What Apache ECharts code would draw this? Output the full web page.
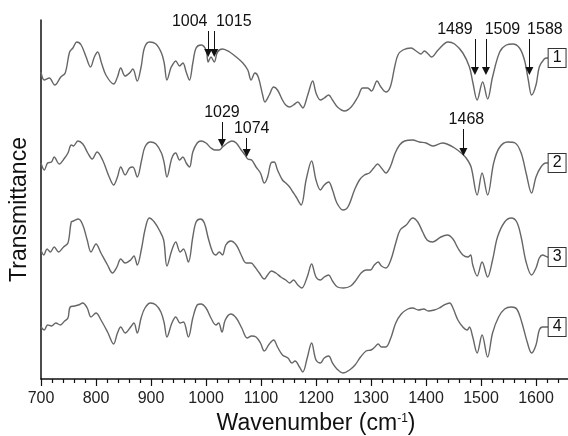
<!DOCTYPE html>
<html>
<head>
<meta charset="utf-8">
<script src="https://cdn.jsdelivr.net/npm/echarts@6/dist/echarts.min.js"></script>
<style>
html, body { margin: 0; padding: 0; background: #fff; }
#chart { width: 568px; height: 436px; }
</style>
</head>
<body>
<div id="chart"></div>
<script>
// spectra (offset traces, arbitrary transmittance units)
var wn1 = [700,706,715,725,736,744,752,758,765,773,782,790,797,803,810,818,832,839,845,853,861,867,875,882,888,897,909,919,924,929,936,939,945,952,958,964,970,976,982,991,1000,1004,1009,1015,1021,1030,1043,1055,1067,1076,1082,1089,1095,1103,1107,1115,1123,1130,1139,1145,1152,1159,1167,1173,1176,1185,1194,1200,1208,1215,1223,1230,1239,1252,1264,1276,1285,1294,1301,1311,1318,1327,1335,1343,1349,1358,1373,1382,1391,1397,1404,1410,1422,1440,1452,1467,1479,1485,1493,1503,1512,1521,1534,1546,1558,1570,1579,1586,1592,1600,1606,1615,1620,1623];
var t1 = [307,299,301,294,302,306,327,331,337,334,322,312,322,327,316,304,295,302,311,303,306,310,298,312,331,337,335,326,316,299,311,314,318,313,316,307,299,316,331,334,329,317,322,317,327,330,327,322,316,309,299,306,302,284,277,284,292,289,279,274,272,274,277,273,271,284,298,286,279,281,284,279,272,268,272,282,291,291,288,298,292,287,292,312,324,329,331,328,325,328,325,322,329,337,335,326,312,297,279,297,280,302,327,334,335,331,319,299,284,294,312,320,321,321];

var wn2 = [700,706,712,719,724,733,743,749,755,759,767,776,785,793,802,812,824,832,839,845,853,861,867,875,883,889,899,909,919,924,929,938,945,952,958,964,970,976,984,991,1000,1009,1016,1024,1030,1039,1047,1055,1064,1071,1076,1083,1091,1099,1106,1112,1118,1124,1130,1139,1145,1152,1158,1164,1173,1182,1192,1200,1208,1215,1223,1230,1238,1249,1258,1270,1279,1288,1297,1305,1312,1319,1327,1335,1344,1352,1361,1376,1388,1400,1412,1430,1438,1452,1464,1473,1482,1493,1502,1512,1523,1533,1548,1562,1573,1582,1592,1600,1609,1618,1623];
var t2 = [216,209,216,217,222,215,221,226,234,233,238,235,226,220,227,219,202,194,202,212,204,211,212,202,219,232,237,235,226,216,202,221,226,219,222,216,212,227,236,238,236,231,229,229,232,236,238,236,229,224,220,219,212,206,196,202,216,217,209,199,196,192,187,182,174,199,218,199,189,194,197,189,176,169,172,189,199,204,206,211,215,211,206,212,226,234,238,239,237,236,233,236,235,231,226,221,212,184,206,184,216,231,237,236,226,206,186,202,212,216,216];

var wn3 = [700,705,711,717,724,732,741,749,755,759,768,776,784,791,800,809,821,830,838,845,853,863,869,875,883,889,897,906,915,923,929,938,945,953,959,968,976,982,990,997,1004,1012,1018,1024,1030,1036,1045,1055,1064,1073,1082,1089,1097,1106,1112,1119,1127,1136,1145,1152,1159,1167,1174,1184,1192,1200,1208,1215,1223,1230,1239,1250,1263,1273,1282,1291,1299,1306,1313,1319,1327,1336,1345,1353,1364,1376,1385,1394,1402,1412,1427,1439,1449,1458,1467,1476,1481,1485,1493,1502,1512,1521,1530,1543,1555,1565,1573,1582,1592,1600,1606,1612,1621,1623];
var t3 = [129,124,130,127,132,127,132,136,157,158,160,154,139,127,135,126,114,106,112,120,116,119,123,114,131,149,161,157,149,139,113,129,137,127,130,117,142,157,160,156,141,127,124,127,124,134,138,134,124,116,116,112,106,100,104,108,106,102,99,96,99,94,91,102,115,102,99,102,104,98,92,91,93,99,106,109,109,114,117,113,111,119,136,149,154,161,157,147,139,137,142,144,140,131,124,122,124,114,103,117,102,119,142,157,161,157,142,117,104,111,121,124,122,122];

var wn4 = [700,706,712,719,727,735,743,749,753,761,768,776,784,791,800,809,821,832,839,845,853,863,869,875,882,889,899,909,918,924,929,938,945,953,959,968,976,984,991,1000,1009,1018,1023,1029,1035,1045,1055,1065,1075,1083,1091,1099,1106,1115,1123,1130,1139,1149,1156,1162,1170,1176,1184,1192,1200,1208,1215,1223,1230,1238,1249,1261,1271,1281,1291,1300,1307,1313,1319,1327,1336,1345,1355,1367,1376,1386,1396,1404,1415,1424,1433,1443,1449,1458,1467,1475,1479,1485,1493,1502,1512,1521,1532,1543,1555,1565,1574,1584,1592,1600,1606,1612,1620,1623];
var t4 = [52,49,54,53,56,54,58,61,72,73,74,76,71,62,66,59,47,35,46,52,46,52,56,46,61,71,76,74,67,56,42,56,62,56,57,42,61,74,75,71,61,54,56,47,59,65,61,51,41,43,42,36,28,35,39,32,24,21,16,18,12,7,21,36,19,16,21,23,16,10,6,9,14,22,28,29,32,35,32,32,41,56,65,70,71,69,70,68,69,71,74,76,71,59,52,49,52,42,26,44,22,46,62,70,72,70,57,37,26,34,49,52,52,52];

var traceNames = ['1', '2', '3', '4'];

// marked bands: wavenumber, top of arrow, arrow head (same units as the traces)
var bands1 = [1004, 1015, 1489, 1509, 1588];
var bands1Top = [348, 348, 340, 340, 340];
var bands1Tip = [326, 326, 308, 308, 308];
var bands2 = [1029, 1074, 1468];
var bands2Top = [257, 241, 250];
var bands2Tip = [236, 226, 227];

// shift of each number relative to its arrow
var labelPad = {
    1004: [0, 37, 0, 0], 1015: [0, 0, 0, 39],
    1489: [0, 40, 0, 0], 1509: [0, 0, 0, 33], 1588: [0, 0, 0, 31],
    1029: [0, 0, 0, 0], 1074: [0, 0, 0, 10], 1468: [0, 0, 0, 6]
};

function pairs(xs, ys) {
    var out = [];
    for (var i = 0; i < xs.length; i++) out.push([xs[i], ys[i]]);
    return out;
}

function arrows(wns, tops, tips) {
    return wns.map(function (w, i) {
        return [
            { coord: [w, tops[i]], name: String(w), label: { padding: labelPad[w] } },
            { coord: [w, tips[i]] }
        ];
    });
}

function markArrows(wns, tops, tips) {
    return {
        silent: true,
        animation: false,
        symbol: ['none', 'triangle'],
        symbolSize: 8,
        itemStyle: { color: '#111' },
        lineStyle: { color: '#111', width: 1, type: 'solid' },
        label: {
            show: true, position: 'start', formatter: '{b}', distance: 1,
            color: '#111', fontSize: 16, fontFamily: 'Liberation Sans'
        },
        emphasis: { disabled: true },
        data: arrows(wns, tops, tips)
    };
}

function trace(name, xs, ys) {
    return {
        name: name,
        type: 'line',
        data: pairs(xs, ys),
        showSymbol: false,
        smooth: 0.35,
        lineStyle: { color: '#666', width: 1.4 },
        itemStyle: { color: '#666' },
        endLabel: {
            show: true,
            formatter: name,
            distance: 0,
            color: '#111',
            fontSize: 16,
            fontFamily: 'Liberation Sans',
            lineHeight: 17,
            padding: [1, 4, 0, 4],
            borderColor: '#333',
            borderWidth: 1,
            backgroundColor: '#fff'
        },
        emphasis: { disabled: true }
    };
}

var chart = echarts.init(document.getElementById('chart'));

var series = [
    trace(traceNames[0], wn1, t1),
    trace(traceNames[1], wn2, t2),
    trace(traceNames[2], wn3, t3),
    trace(traceNames[3], wn4, t4)
];
series[0].markLine = markArrows(bands1, bands1Top, bands1Tip);
series[1].markLine = markArrows(bands2, bands2Top, bands2Tip);

var option = {
    animation: false,
    backgroundColor: '#fff',
    textStyle: { fontFamily: 'Liberation Sans' },
    grid: { left: 41, right: -23, top: 20, bottom: 57, containLabel: false, outerBoundsMode: 'none' },
    xAxis: {
        type: 'value',
        min: 700,
        max: 1700,
        interval: 100,
        name: 'Wavenumber (cm{sup|-1})',
        nameLocation: 'middle',
        nameGap: 32,
        nameTextStyle: {
            color: '#111', fontSize: 23, padding: [0, 0, 0, 0],
            rich: { sup: { fontSize: 12, color: '#111', padding: [0, 0, 10, 0] } }
        },
        axisLine: { show: true, lineStyle: { color: '#111', width: 1.5 } },
        axisTick: { show: true, inside: false, length: 7, lineStyle: { color: '#111', width: 1.2 } },
        minorTick: { show: true, splitNumber: 5, length: 4, lineStyle: { color: '#111', width: 1.2 } },
        axisLabel: {
            color: '#222', fontSize: 16, margin: 12, showMaxLabel: false,
            formatter: function (v) { return String(v); }
        },
        splitLine: { show: false },
        minorSplitLine: { show: false }
    },
    yAxis: {
        type: 'value',
        min: 0,
        max: 359,
        name: 'Transmittance',
        nameLocation: 'middle',
        nameGap: 10,
        nameTextStyle: { color: '#111', fontSize: 23, padding: [0, 20, 0, 0] },
        axisLine: { show: true, lineStyle: { color: '#111', width: 1.5 } },
        axisTick: { show: false },
        axisLabel: { show: false },
        splitLine: { show: false }
    },
    series: series
};

chart.setOption(option);
</script>
</body>
</html>
